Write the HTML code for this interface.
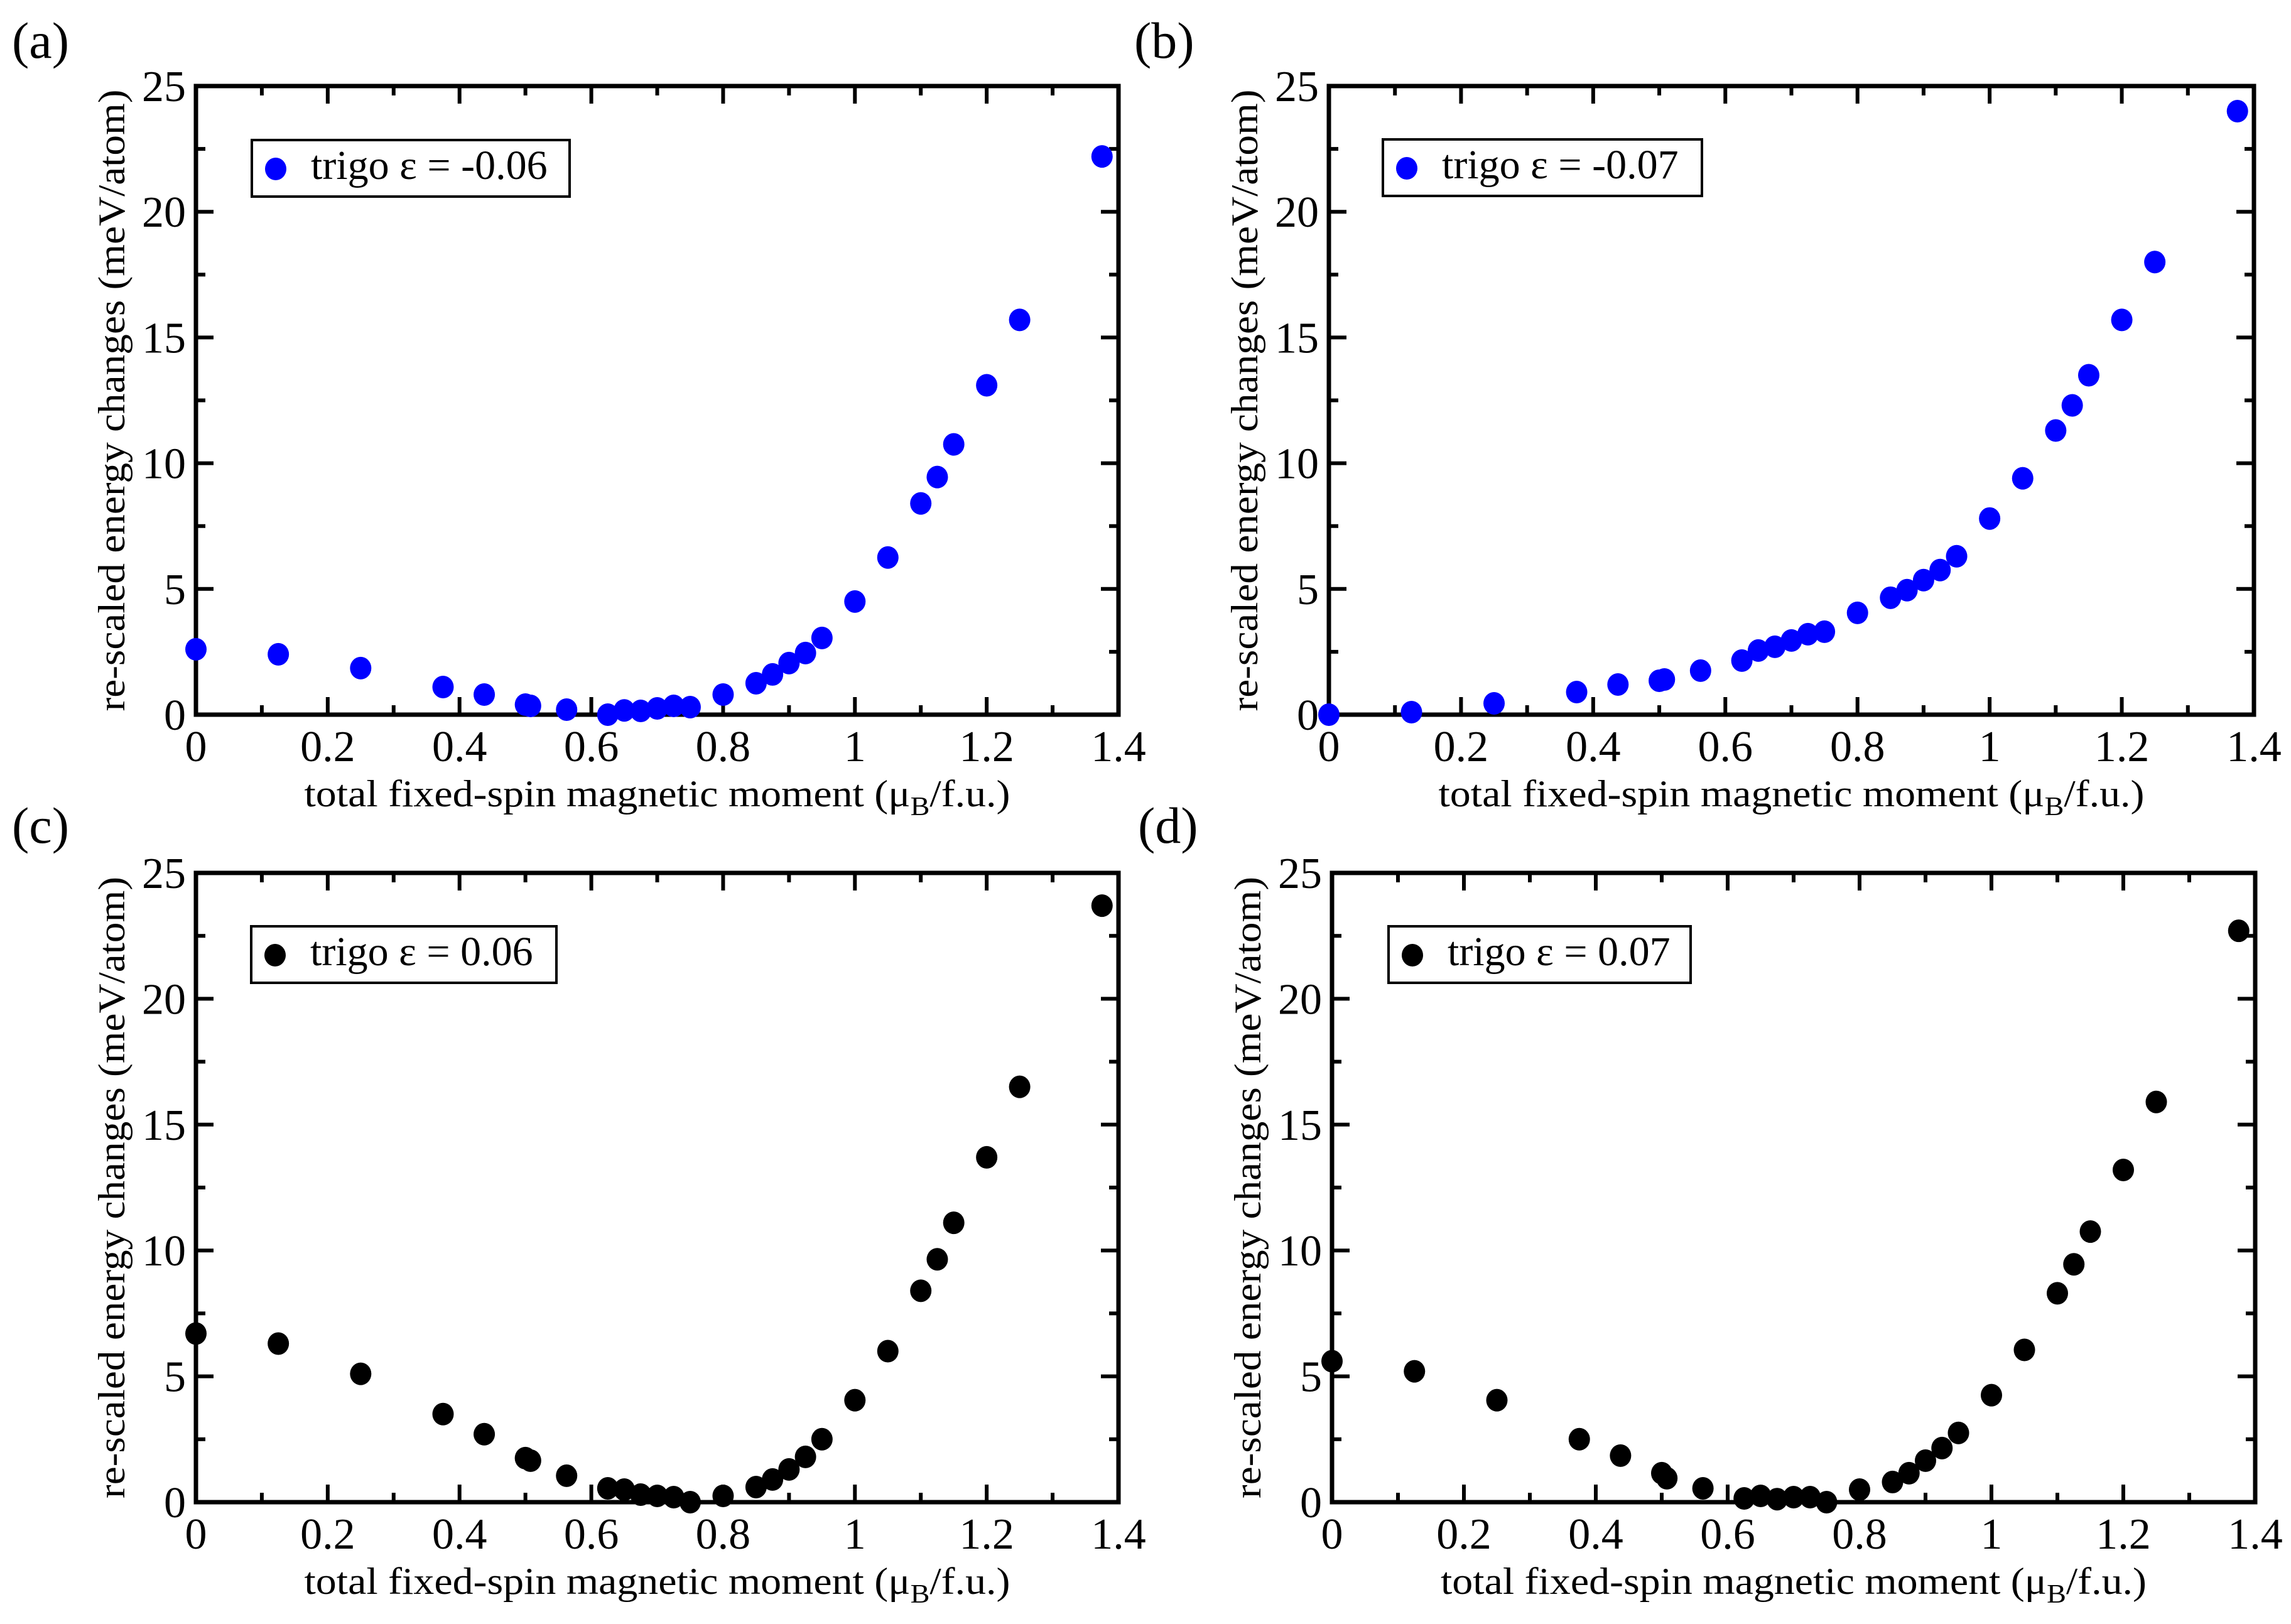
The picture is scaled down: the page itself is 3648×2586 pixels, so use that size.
<!DOCTYPE html>
<html><head><meta charset="utf-8"><style>
html,body{margin:0;padding:0;background:#fff}
svg{display:block}
text{font-family:"Liberation Serif","Times New Roman",serif;fill:#000}
</style></head><body>
<svg id="fig" width="3648" height="2586" viewBox="0 0 3648 2586" xmlns="http://www.w3.org/2000/svg" font-family="Liberation Serif, Times New Roman, serif"></svg>
<script>
const xMoment = [0,0.125,0.25,0.375,0.4375,0.5,0.5078,0.5625,0.625,0.65,0.675,0.7,0.725,0.75,0.8,0.85,0.875,0.9,0.925,0.95,1.0,1.05,1.1,1.125,1.15,1.2,1.25,1.375];
const energyA = [2.6,2.4,1.85,1.1,0.8,0.4,0.35,0.2,0.0,0.17,0.15,0.25,0.35,0.3,0.8,1.25,1.6,2.05,2.45,3.05,4.5,6.25,8.4,9.45,10.75,13.1,15.7,22.2];
const energyB = [0,0.1,0.45,0.9,1.2,1.35,1.4,1.75,2.15,2.55,2.7,2.95,3.2,3.3,4.05,4.65,4.95,5.35,5.75,6.3,7.8,9.4,11.3,12.3,13.5,15.7,18.0,24.0];
const energyC = [6.7,6.3,5.1,3.5,2.7,1.75,1.65,1.05,0.55,0.5,0.3,0.25,0.2,0.0,0.25,0.6,0.9,1.3,1.8,2.5,4.05,6.0,8.4,9.65,11.1,13.7,16.5,23.7];
const energyD = [5.6,5.2,4.05,2.5,1.85,1.15,0.95,0.55,0.15,0.25,0.12,0.2,0.2,0.0,0.5,0.8,1.15,1.65,2.15,2.75,4.25,6.05,8.3,9.45,10.75,13.2,15.9,22.7];
const xTicks = ["0","0.2","0.4","0.6","0.8","1","1.2","1.4"];
const yTicks = ["0","5","10","15","20","25"];
const panelLabels = ["(a)","(b)","(c)","(d)"];
const legendLabels = ["trigo ε = -0.06","trigo ε = -0.07","trigo ε = 0.06","trigo ε = 0.07"];

const NS="http://www.w3.org/2000/svg";
const svg=document.getElementById('fig');
function mk(tag,attrs,parent){const e=document.createElementNS(NS,tag);for(const k in attrs)e.setAttribute(k,attrs[k]);(parent||svg).appendChild(e);return e;}

const panels=[
 {L:312,R:1781,T:137,B:1138,data:energyA,color:"#0000ff",lab:[19,92],leg:[401,223,506]},
 {L:2116,R:3589,T:137,B:1138,data:energyB,color:"#0000ff",lab:[1806,92],leg:[2202,222,508]},
 {L:312,R:1781,T:1390,B:2392,data:energyC,color:"#000000",lab:[19,1342],leg:[400,1475,486]},
 {L:2121,R:3591,T:1390,B:2392,data:energyD,color:"#000000",lab:[1812,1342],leg:[2211,1475,481]}
];
const names=['a','b','c','d'];
panels.forEach((p,i)=>{
 const g=mk('g',{});
 
 
 const sx=v=>p.L+(v/1.4)*(p.R-p.L);
 const sy=v=>p.B-(v/25)*(p.B-p.T);
 for(let k=0;k<=14;k++){
  const x=sx(k*0.1), len=(k%2==0)?28:15;
  if(k>0&&k<14){
   mk('line',{x1:x,y1:p.B,x2:x,y2:p.B-len,stroke:'#000','stroke-width':6},g);
   mk('line',{x1:x,y1:p.T,x2:x,y2:p.T+len,stroke:'#000','stroke-width':6},g);
  }
 }
 for(let k=0;k<=10;k++){
  const y=sy(k*2.5), len=(k%2==0)?28:15;
  if(k>0&&k<10){
   mk('line',{x1:p.L,y1:y,x2:p.L+len,y2:y,stroke:'#000','stroke-width':6},g);
   mk('line',{x1:p.R,y1:y,x2:p.R-len,y2:y,stroke:'#000','stroke-width':6},g);
  }
 }
 const frame=mk('rect',{x:p.L,y:p.T,width:p.R-p.L,height:p.B-p.T,fill:'none',stroke:'#000','stroke-width':7},g);
 
 
 xTicks.forEach((t,k)=>{
  const tx=mk('text',{x:sx(k*0.2),y:p.B+74,'font-size':70,'text-anchor':'middle'},g);
  tx.textContent=t;
  
  
 });
 yTicks.forEach((t,k)=>{
  const ty=mk('text',{x:p.L-16,y:sy(k*5)+24,'font-size':70,'text-anchor':'end'},g);
  ty.textContent=t;
  
  
 });
 const xt=mk('text',{x:(p.L+p.R)/2,y:p.B+146,'font-size':60,'text-anchor':'middle',textLength:1124,lengthAdjust:'spacingAndGlyphs'},g);
 xt.innerHTML='total fixed-spin magnetic moment (μ<tspan font-size="42" dy="14">B</tspan><tspan dy="-14">/f.u.)</tspan>';
 
 
 const cy=(p.T+p.B)/2, cx=p.L-134;
 const yt=mk('text',{x:cx,y:cy,'font-size':60,'text-anchor':'middle',transform:`rotate(-90 ${cx} ${cy})`,dy:20,textLength:990,lengthAdjust:'spacingAndGlyphs'},g);
 yt.textContent='re-scaled energy changes (meV/atom)';
 
 
 const pl=mk('text',{x:p.lab[0],y:p.lab[1],'font-size':82},g);
 pl.textContent=panelLabels[i];
 
 
 const lg=mk('g',{},g);
 
 
 mk('rect',{x:p.leg[0],y:p.leg[1],width:p.leg[2],height:90,fill:'#fff',stroke:'#000','stroke-width':4},lg);
 mk('ellipse',{cx:p.leg[0]+38,cy:p.leg[1]+46,rx:17,ry:18,fill:p.color},lg);
 const lt=mk('text',{x:p.leg[0]+94,y:p.leg[1]+62,'font-size':66},lg);
 lt.textContent=legendLabels[i];
 const pg=mk('g',{},g);
 
 
 xMoment.forEach((xv,k)=>{
  const c=mk('ellipse',{cx:sx(xv),cy:sy(p.data[k]),rx:17,ry:18,fill:p.color},pg);
  
  
 });
});
</script>
</body></html>
